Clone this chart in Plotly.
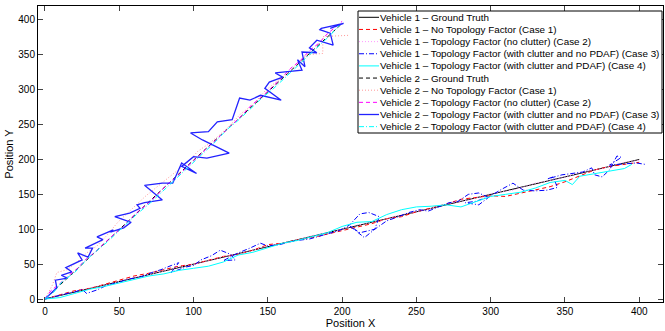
import plotly.graph_objects as go

# ---------------- data ----------------
v1_gt_x = [0, 400]
v1_gt_y = [0, 200]

v1_c1_x = [0, 10, 20, 30, 40, 50, 60, 70, 80, 90, 100, 110, 120, 130, 140, 150, 160, 170, 180, 190, 200,
           210, 220, 230, 240, 250, 260, 270, 280, 290, 300, 310, 320, 330, 340, 350, 360, 370, 380, 390, 400]
v1_c1_y = [0, 6, 12, 15, 21, 26, 33, 37, 42, 47, 50, 55, 61, 64, 70, 78, 80, 85, 88, 93, 98,
           102, 108, 115, 118, 125, 130, 136, 143, 146, 148, 147, 152, 157, 161, 168, 176, 185, 190, 193, 196]

v1_c2_x = [0, 15, 30, 45, 60, 75, 90, 105, 120, 135, 150, 165, 180, 195, 210, 225, 240, 255, 270, 285, 300,
           315, 330, 345, 360, 375, 390, 400]
v1_c2_y = [0, 8, 16, 22, 31, 37, 46, 52, 61, 67, 76, 82, 91, 97, 106, 112, 121, 127, 136, 142, 151,
           156, 166, 172, 181, 187, 196, 199]

v1_c3_x = [0, 5, 10, 15, 20, 25, 28, 35, 42, 50, 55, 60, 65, 72, 78, 85, 90, 85, 95, 100, 105, 112, 118,
           125, 128, 120, 130, 138, 145, 150, 158, 165, 170, 178, 185, 190, 198, 205, 212, 218, 225, 222,
           212, 205, 215, 222, 230, 238, 245, 252, 258, 265, 272, 278, 285, 292, 298, 290, 283, 292, 300,
           308, 315, 322, 330, 338, 345, 342, 338, 348, 355, 362, 368, 370, 375, 380, 385, 388, 380, 392,
           398, 404]
v1_c3_y = [0, 3, 5, 8, 10, 14, 8, 13, 20, 24, 28, 30, 32, 38, 42, 48, 52, 38, 46, 48, 56, 62, 70,
           64, 56, 55, 66, 73, 80, 76, 78, 82, 84, 86, 90, 93, 98, 106, 122, 124, 118, 100,
           95, 105, 88, 100, 112, 118, 124, 128, 126, 132, 138, 140, 150, 152, 146, 140, 138, 135, 148,
           158, 166, 156, 155, 156, 160, 175, 172, 178, 180, 182, 188, 178, 175, 185, 205, 203, 192, 194,
           195, 193]

v1_c4_x = [0, 10, 20, 30, 40, 50, 60, 70, 80, 90, 100, 110, 120, 130, 140, 150, 160, 170, 180, 190, 200,
           210, 220, 230, 240, 250, 260, 270, 280, 290, 300, 310, 320, 330, 340, 350, 355, 360, 370, 380,
           390, 395]
v1_c4_y = [0, 2, 8, 14, 18, 23, 28, 33, 36, 41, 44, 47, 53, 63, 67, 73, 80, 84, 90, 95, 104,
           110, 111, 121, 128, 132, 133, 135, 132, 140, 147, 150, 153, 159, 167, 170, 164, 176, 180, 183,
           187, 193]

v2_gt_x = [0, 50, 100, 150, 200]
v2_gt_y = [0, 100, 199, 297, 395]

v2_c1_x = [0, 5, 8, 15, 22, 28, 35, 42, 49, 55, 62, 68, 75, 82, 90, 96, 103, 110, 118, 125, 132, 140,
           148, 156, 165, 176, 187, 187, 195, 205]
v2_c1_y = [0, 20, 38, 42, 54, 66, 76, 92, 110, 122, 135, 148, 160, 172, 186, 196, 212, 222, 236, 250, 266,
           278, 298, 312, 326, 350, 352, 376, 377, 378]

v2_c2_x = [0, 4, 10, 16, 22, 27, 33, 38, 45, 52, 58, 63, 70, 76, 82, 88, 95, 101, 108, 114, 120, 126,
           133, 139, 146, 152, 158, 165, 172, 178, 184, 190, 196, 200]
v2_c2_y = [0, 12, 22, 34, 44, 56, 66, 76, 90, 102, 116, 126, 138, 150, 164, 174, 188, 200, 214, 226, 238,
           250, 264, 278, 290, 302, 314, 330, 342, 356, 366, 380, 390, 398]

v2_c3_x = [0, 3, 8, 7, 15, 11, 18, 14, 25, 22, 29, 32, 27, 39, 35, 46, 44, 53, 58, 47, 57, 64, 62, 67,
           79, 67, 79, 86, 87, 92, 102, 92, 100, 109, 124, 106, 98, 110, 116, 126, 131, 138, 145, 159,
           148, 151, 160, 155, 173, 170, 175, 173, 183, 178, 183, 194, 192, 185, 186, 201, 192]
v2_c3_y = [0, 6, 16, 27, 30, 34, 39, 45, 56, 66, 60, 73, 73, 85, 89, 99, 96, 102, 110, 118, 123, 130,
           135, 138, 142, 163, 166, 166, 171, 195, 180, 190, 204, 202, 209, 228, 238, 240, 254, 257, 288,
           285, 292, 285, 302, 311, 318, 324, 328, 343, 333, 354, 353, 360, 371, 364, 381, 386, 388, 395,
           388]

v2_c4_x = [0, 6, 12, 20, 26, 33, 41, 48, 55, 62, 70, 77, 85, 92, 100, 108, 115, 122, 130, 138, 146,
           153, 161, 169, 177, 184, 192, 198]
v2_c4_y = [0, 10, 26, 38, 52, 66, 80, 94, 108, 122, 136, 150, 166, 180, 196, 212, 226, 242, 256, 272, 288,
           300, 316, 332, 348, 362, 378, 392]

series_names = [
    "Vehicle 1 \u2013 Ground Truth",
    "Vehicle 1 \u2013 No Topology Factor (Case 1)",
    "Vehicle 1 \u2013 Topology Factor (no clutter) (Case 2)",
    "Vehicle 1 \u2013 Topology Factor (with clutter and no PDAF) (Case 3)",
    "Vehicle 1 \u2013 Topology Factor (with clutter and PDAF) (Case 4)",
    "Vehicle 2 \u2013 Ground Truth",
    "Vehicle 2 \u2013 No Topology Factor (Case 1)",
    "Vehicle 2 \u2013 Topology Factor (no clutter) (Case 2)",
    "Vehicle 2 \u2013 Topology Factor (with clutter and no PDAF) (Case 3)",
    "Vehicle 2 \u2013 Topology Factor (with clutter and PDAF) (Case 4)",
]

series_xy = [
    (v1_gt_x, v1_gt_y), (v1_c1_x, v1_c1_y), (v1_c2_x, v1_c2_y), (v1_c3_x, v1_c3_y), (v1_c4_x, v1_c4_y),
    (v2_gt_x, v2_gt_y), (v2_c1_x, v2_c1_y), (v2_c2_x, v2_c2_y), (v2_c3_x, v2_c3_y), (v2_c4_x, v2_c4_y),
]

# styles: (color, dash, width)
DASH = "4px,3px"
DOT = "1px,2px"
DASHDOT = "5px,2px,1px,2px"
styles = [
    ("#000000", "solid", 1.0),
    ("#ff0000", DASH, 1.0),
    ("#ff99ff", DOT, 1.0),
    ("#0000ff", DASHDOT, 1.0),
    ("#00ffff", "solid", 1.0),
    ("#000000", DASH, 1.0),
    ("#ff9999", DOT, 1.0),
    ("#ff00ff", DASH, 1.0),
    ("#2222ff", "solid", 1.3),
    ("#00ffff", DASHDOT, 1.0),
]

draw_order = [0, 5, 1, 2, 3, 4, 6, 7, 8, 9]

fig = go.Figure()
for i in draw_order:
    x, y = series_xy[i]
    c, d, w = styles[i]
    fig.add_trace(go.Scatter(x=x, y=y, mode="lines", name=series_names[i], showlegend=False,
                             line=dict(color=c, dash=d, width=w)))

# ---------------- manual legend (MATLAB style compact box) ----------------
W, H = 665, 331
ML, MR, MT, MB = 38, 2, 6, 29
pw, ph = W - ML - MR, H - MT - MB


def px2paper_x(px):
    return (px - ML) / pw


def px2paper_y(py):
    return (H - MB - py) / ph


shapes = [dict(type="rect", xref="paper", yref="paper",
               x0=px2paper_x(358), x1=px2paper_x(662), y0=px2paper_y(133), y1=px2paper_y(11),
               fillcolor="white", line=dict(color="black", width=1), layer="above")]
annotations = []
for k, name in enumerate(series_names):
    yc = 17.3 + 12.15 * k
    c, d, w = styles[k]
    shapes.append(dict(type="line", xref="paper", yref="paper",
                       x0=px2paper_x(359), x1=px2paper_x(379), y0=px2paper_y(yc), y1=px2paper_y(yc),
                       line=dict(color=c, dash=d, width=w), layer="above"))
    annotations.append(dict(xref="paper", yref="paper", x=px2paper_x(378), y=px2paper_y(yc),
                            text=name, showarrow=False, xanchor="left", yanchor="middle",
                            font=dict(size=9.85, color="black", family="Liberation Sans")))

fig.update_layout(
    width=W, height=H,
    margin=dict(l=ML, r=MR, t=MT, b=MB),
    paper_bgcolor="white", plot_bgcolor="white",
    font=dict(family="Liberation Sans", size=10, color="black"),
    shapes=shapes, annotations=annotations,
    showlegend=False,
)
fig.update_xaxes(range=[-4.7, 416], tickvals=[0, 50, 100, 150, 200, 250, 300, 350, 400],
                 ticks="inside", ticklen=5, showline=True, linecolor="black", linewidth=1,
                 mirror="ticks", showgrid=False, zeroline=False,
                 title=dict(text="Position X", standoff=0, font=dict(size=11)))
fig.update_yaxes(range=[-4.3, 420], tickvals=[0, 50, 100, 150, 200, 250, 300, 350, 400],
                 ticks="inside", ticklen=5, showline=True, linecolor="black", linewidth=1,
                 mirror="ticks", showgrid=False, zeroline=False,
                 title=dict(text="Position Y", standoff=2, font=dict(size=11)))

fig.write_html("out.html")
